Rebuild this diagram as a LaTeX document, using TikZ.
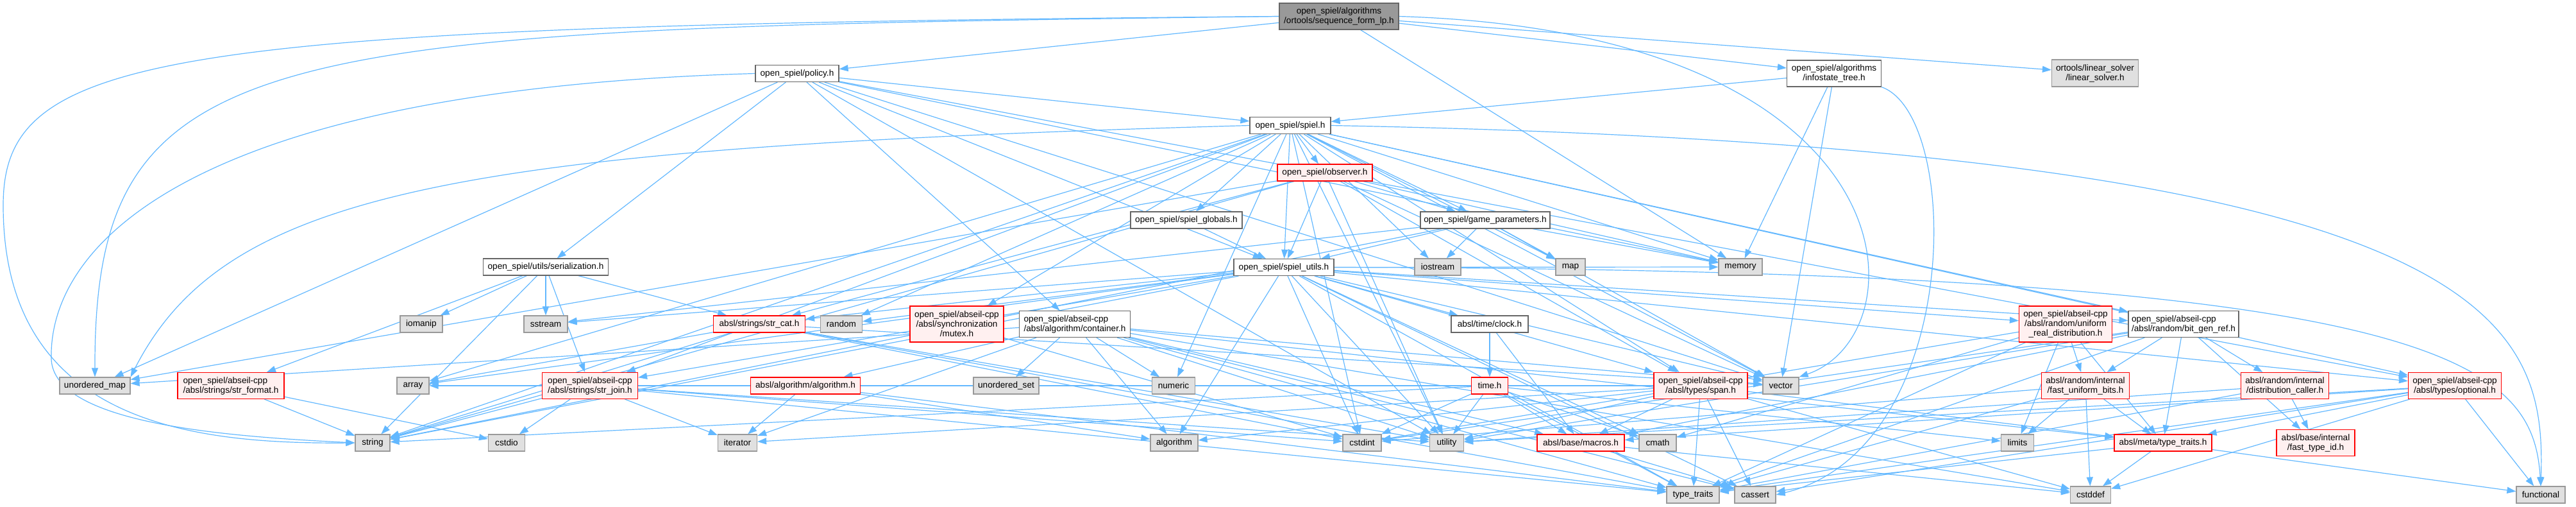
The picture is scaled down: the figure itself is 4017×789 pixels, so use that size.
\documentclass[tikz,border=0pt]{standalone}
\usepackage{fontspec}
\setmainfont{Liberation Sans}
\usetikzlibrary{arrows.meta,positioning,shapes}

\definecolor{edgeblue}{HTML}{63B8FF}
\definecolor{sysfill}{HTML}{E0E0E0}
\definecolor{sysline}{HTML}{999999}
\definecolor{hline}{HTML}{666666}
\definecolor{cutfill}{HTML}{FFF0F0}
\definecolor{rootfill}{HTML}{999999}

\pgfdeclarelayer{edges}
\pgfsetlayers{edges,main}

\tikzset{
  hfile/.style={draw=hline,fill=white,line width=0.6pt,inner sep=1pt,
    minimum height=13pt,align=center,font=\fontsize{6.8}{7.5}\selectfont},
  sysfile/.style={hfile,draw=sysline,fill=sysfill},
  cutfile/.style={hfile,draw=red,fill=cutfill},
  rootfile/.style={hfile,fill=rootfill},
  incl/.style={draw=edgeblue,line width=0.6pt,-{Triangle[length=7pt,width=5pt]}},
}

\begin{document}
\begin{tikzpicture}[x=0.5pt,y=-0.5pt]
\useasboundingbox (0,0) rectangle (4017,789);
% row 0 and 1
\node[rootfile,minimum width=93pt,minimum height=20.5pt] (root) at (2088,25.5) {open\_spiel/algorithms\\/ortools/sequence\_form\_lp.h};
\node[hfile,minimum width=65pt] (policy) at (1243,114.5) {open\_spiel/policy.h};
\node[hfile,minimum width=73.5pt,minimum height=20.5pt] (infotree) at (2860,114.5) {open\_spiel/algorithms\\/infostate\_tree.h};
\node[sysfile,minimum width=67.5pt,minimum height=21pt] (linsolver) at (3267,114) {ortools/linear\_solver\\/linear\_solver.h};
% spiel.h and friends
\node[hfile,minimum width=63pt] (spiel) at (2012,195.5) {open\_spiel/spiel.h};
\node[cutfile,minimum width=74pt] (observer) at (2066,269) {open\_spiel/observer.h};
\node[hfile,minimum width=87pt] (globals) at (1850,343) {open\_spiel/spiel\_globals.h};
\node[hfile,minimum width=101pt] (gameparams) at (2316,343) {open\_spiel/game\_parameters.h};
\node[hfile,minimum width=78pt] (utils) at (2002,416.5) {open\_spiel/spiel\_utils.h};
\node[hfile,minimum width=97.5pt] (serial) at (851,416) {open\_spiel/utils/serialization.h};
\node[sysfile,minimum width=36pt] (iostream) at (2242,416) {iostream};
\node[sysfile,minimum width=23pt] (map) at (2449,416) {map};
\node[sysfile,minimum width=34pt] (memory) at (2714,416) {memory};
% middle row
\node[sysfile,minimum width=33pt] (iomanip) at (657,505) {iomanip};
\node[sysfile,minimum width=34pt] (sstream) at (851,505) {sstream};
\node[cutfile,minimum width=71.5pt] (strcat) at (1184,505) {absl/strings/str\_cat.h};
\node[sysfile,minimum width=32.5pt] (random) at (1312,505) {random};
\node[cutfile,minimum width=73pt,minimum height=28pt] (mutex) at (1492,505) {open\_spiel/abseil-cpp\\/absl/synchronization\\/mutex.h};
\node[hfile,minimum width=86.5pt,minimum height=20.5pt,align=left] (container) at (1676,505) {open\_spiel/abseil-cpp\\/absl/algorithm/container.h};
\node[hfile,minimum width=60pt] (clock) at (2323,505) {absl/time/clock.h};
\node[cutfile,minimum width=72.5pt,minimum height=28pt] (unifreal) at (3221,505) {open\_spiel/abseil-cpp\\/absl/random/uniform\\\_real\_distribution.h};
\node[hfile,minimum width=86pt,minimum height=20.5pt,align=left] (bitgen) at (3405,505) {open\_spiel/abseil-cpp\\/absl/random/bit\_gen\_ref.h};
% lower row
\node[sysfile,minimum width=55pt] (umap) at (148,601) {unordered\_map};
\node[cutfile,minimum width=83pt,minimum height=20.5pt,align=left] (strformat) at (360,601) {open\_spiel/abseil-cpp\\/absl/strings/str\_format.h};
\node[sysfile,minimum width=25pt] (array) at (644,601) {array};
\node[cutfile,minimum width=74.5pt,minimum height=20.5pt,align=left] (strjoin) at (920,601) {open\_spiel/abseil-cpp\\/absl/strings/str\_join.h};
\node[cutfile,minimum width=85.5pt] (algoh) at (1256,601) {absl/algorithm/algorithm.h};
\node[sysfile,minimum width=51pt] (uset) at (1569,601) {unordered\_set};
\node[sysfile,minimum width=33.5pt] (numeric) at (1830,601) {numeric};
\node[cutfile,minimum width=28.5pt] (timeh) at (2323,601) {time.h};
\node[cutfile,minimum width=73pt,minimum height=20.5pt] (span) at (2652,601) {open\_spiel/abseil-cpp\\/absl/types/span.h};
\node[sysfile,minimum width=28pt] (vector) at (2777,601) {vector};
\node[cutfile,minimum width=68.5pt,minimum height=20.5pt] (fastbits) at (3252,601) {absl/random/internal\\/fast\_uniform\_bits.h};
\node[cutfile,minimum width=68.5pt,minimum height=20.5pt] (distcaller) at (3563,601) {absl/random/internal\\/distribution\_caller.h};
\node[cutfile,minimum width=72.5pt,minimum height=20.5pt] (optional) at (3828,601) {open\_spiel/abseil-cpp\\/absl/types/optional.h};
% bottom rows
\node[sysfile,minimum width=27pt] (string) at (581,690) {string};
\node[sysfile,minimum width=28.5pt] (cstdio) at (790,690) {cstdio};
\node[sysfile,minimum width=30.5pt] (iterator) at (1150,690) {iterator};
\node[sysfile,minimum width=37pt] (algorithm) at (1831,690) {algorithm};
\node[sysfile,minimum width=30pt] (cstdint) at (2124,690) {cstdint};
\node[sysfile,minimum width=26.5pt] (utility) at (2256,690) {utility};
\node[cutfile,minimum width=68pt] (macros) at (2465,690) {absl/base/macros.h};
\node[sysfile,minimum width=29pt] (cmath) at (2585,690) {cmath};
\node[sysfile,minimum width=25.5pt] (limits) at (3146,690) {limits};
\node[cutfile,minimum width=76pt] (metatt) at (3373,690) {absl/meta/type\_traits.h};
\node[cutfile,minimum width=61pt,minimum height=20.5pt] (fasttypeid) at (3611,690) {absl/base/internal\\/fast\_type\_id.h};
\node[sysfile,minimum width=41pt] (typetraits) at (2640,771) {type\_traits};
\node[sysfile,minimum width=32pt] (cassert) at (2737,771) {cassert};
\node[sysfile,minimum width=31.5pt] (cstddef) at (3260,771) {cstddef};
\node[sysfile,minimum width=38pt] (functional) at (3962,771) {functional};
\begin{pgfonlayer}{edges}
% sequence_form_lp.h
\draw[incl] (root) -- (policy);
\draw[incl] (root) -- (infotree);
\draw[incl] (root) -- (linsolver);
\draw[incl] (root.west) .. controls (400,45) and (147,60) .. (umap.north);
\draw[incl] (root.west) .. controls (250,40) and (5,80) .. (5,320) .. controls (5,660) and (300,692) .. (string.west);
\draw[incl] (root) -- (memory);
\draw[incl] (root.east) .. controls (2990,50) and (3000,520) .. (vector.north east);
% infostate_tree.h
\draw[incl] (infotree) -- (spiel);
\draw[incl] (infotree) -- (memory);
\draw[incl] (infotree) -- (vector);
\draw[incl] (infotree.south east) .. controls (3060,180) and (3062,700) .. (cassert.east);
% policy.h
\draw[incl] (policy) -- (spiel);
\draw[incl] (policy) -- (serial);
\draw[incl] (policy) -- (utils);
\draw[incl] (policy) -- (container);
\draw[incl] (policy) -- (umap);
\draw[incl] (policy.west) .. controls (300,140) and (75,380) .. (80,560) .. controls (85,660) and (350,680) .. (string.west);
\draw[incl] (policy) -- (memory);
\draw[incl] (policy) -- (vector);
\draw[incl] (policy) -- (utility);
\draw[incl] (policy) -- (optional);
% spiel.h
\draw[incl] (spiel) -- (observer);
\draw[incl] (spiel) -- (globals);
\draw[incl] (spiel) -- (gameparams);
\draw[incl] (spiel) -- (utils);
\draw[incl] (spiel) -- (strjoin);
\draw[incl] (spiel) -- (mutex);
\draw[incl] (spiel) -- (bitgen);
\draw[incl] (spiel) -- (optional);
\draw[incl] (spiel) -- (span);
\draw[incl] (spiel.east) .. controls (3900,230) and (3970,500) .. (functional.north);
\draw[incl] (spiel) -- (iostream);
\draw[incl] (spiel) -- (memory);
\draw[incl] (spiel) -- (random);
\draw[incl] (spiel) -- (string);
\draw[incl] (spiel.west) .. controls (700,230) and (350,300) .. (umap.north east);
\draw[incl] (spiel) -- (utility);
\draw[incl] (spiel) -- (vector);
\draw[incl] (spiel) -- (map);
\draw[incl] (spiel) -- (cstdint);
\draw[incl] (spiel) -- (numeric);
\draw[incl] (spiel) -- (array);
% observer.h
\draw[incl] (observer) -- (gameparams);
\draw[incl] (observer) -- (utils);
\draw[incl] (observer) -- (memory);
\draw[incl] (observer) -- (span);
\draw[incl] (observer) -- (vector);
\draw[incl] (observer) -- (string);
\draw[incl] (observer) -- (umap);
\draw[incl] (observer) -- (strcat);
\draw[incl] (observer) -- (utility);
% spiel_globals.h and game_parameters.h
\draw[incl] (globals) -- (utils);
\draw[incl] (gameparams) -- (utils);
\draw[incl] (gameparams) -- (iostream);
\draw[incl] (gameparams) -- (map);
\draw[incl] (gameparams) -- (memory);
\draw[incl] (gameparams) -- (string);
\draw[incl] (gameparams) -- (sstream);
\draw[incl] (gameparams) -- (vector);
% spiel_utils.h
\draw[incl] (utils) -- (strcat);
\draw[incl] (utils) -- (random);
\draw[incl] (utils) -- (sstream);
\draw[incl] (utils) -- (clock);
\draw[incl] (utils) -- (unifreal);
\draw[incl] (utils) -- (bitgen);
\draw[incl] (utils) -- (optional);
\draw[incl] (utils) -- (span);
\draw[incl] (utils) -- (strjoin);
\draw[incl] (utils) -- (cstdint);
\draw[incl] (utils) -- (utility);
\draw[incl] (utils) -- (algorithm);
\draw[incl] (utils) -- (typetraits);
\draw[incl] (utils) -- (cassert);
\draw[incl] (utils) -- (cmath);
\draw[incl] (utils) -- (vector);
\draw[incl] (utils) -- (string);
\draw[incl] (utils.east) .. controls (3800,420) and (3950,560) .. (functional.north);
\draw[incl] (utils) -- (array);
\draw[incl] (utils) -- (memory);
% serialization.h
\draw[incl] (serial) -- (iomanip);
\draw[incl] (serial) -- (sstream);
\draw[incl] (serial) -- (string);
\draw[incl] (serial) -- (strformat);
\draw[incl] (serial) -- (strjoin);
\draw[incl] (serial) -- (strcat);
% strings
\draw[incl] (strcat) -- (string);
\draw[incl] (strcat) -- (array);
\draw[incl] (strcat) -- (cstdint);
\draw[incl] (strcat) -- (typetraits);
\draw[incl] (strcat) -- (utility);
\draw[incl] (strcat) -- (vector);
\draw[incl] (strjoin) -- (string);
\draw[incl] (strjoin) -- (cstdio);
\draw[incl] (strjoin) -- (iterator);
\draw[incl] (strjoin) -- (typetraits);
\draw[incl] (strjoin) -- (utility);
\draw[incl] (strjoin) -- (cstdint);
\draw[incl] (strformat) -- (string);
\draw[incl] (strformat) -- (cstdio);
\draw[incl] (mutex) -- (cstdint);
% container.h
\draw[incl] (container) -- (algoh);
\draw[incl] (container) -- (uset);
\draw[incl] (container) -- (numeric);
\draw[incl] (container) -- (algorithm);
\draw[incl] (container) -- (typetraits);
\draw[incl] (container) -- (utility);
\draw[incl] (container) -- (vector);
\draw[incl] (container) -- (umap);
\draw[incl] (container) -- (cassert);
\draw[incl] (container) -- (cstddef);
\draw[incl] (container) -- (iterator);
\draw[incl] (container) -- (metatt);
\draw[incl] (container) -- (macros);
\draw[incl] (algoh) -- (iterator);
\draw[incl] (algoh) -- (algorithm);
\draw[incl] (algoh) -- (typetraits);
% time
\draw[incl] (clock) -- (timeh);
\draw[incl] (clock) -- (macros);
\draw[incl] (timeh) -- (cstdint);
\draw[incl] (timeh) -- (utility);
\draw[incl] (timeh) -- (macros);
\draw[incl] (timeh) -- (cmath);
\draw[incl] (timeh) -- (typetraits);
\draw[incl] (timeh) -- (string);
\draw[incl] (timeh) -- (limits);
% span.h
\draw[incl] (span) -- (typetraits);
\draw[incl] (span) -- (cassert);
\draw[incl] (span) -- (cstddef);
\draw[incl] (span) -- (macros);
\draw[incl] (span) -- (utility);
\draw[incl] (span) -- (metatt);
\draw[incl] (span) -- (algorithm);
\draw[incl] (span) -- (iterator);
\draw[incl] (span) -- (array);
\draw[incl] (macros) -- (cassert);
\draw[incl] (macros) -- (cstddef);
% random
\draw[incl] (unifreal) -- (fastbits);
\draw[incl] (unifreal) -- (metatt);
\draw[incl] (unifreal) -- (limits);
\draw[incl] (unifreal) -- (cmath);
\draw[incl] (unifreal) -- (cstdint);
\draw[incl] (unifreal) -- (typetraits);
\draw[incl] (bitgen) -- (fastbits);
\draw[incl] (bitgen) -- (distcaller);
\draw[incl] (bitgen) -- (fasttypeid);
\draw[incl] (bitgen) -- (metatt);
\draw[incl] (bitgen) -- (typetraits);
\draw[incl] (bitgen) -- (utility);
\draw[incl] (bitgen) -- (macros);
\draw[incl] (bitgen) -- (cstdint);
\draw[incl] (fastbits) -- (limits);
\draw[incl] (fastbits) -- (cstddef);
\draw[incl] (fastbits) -- (cstdint);
\draw[incl] (fastbits) -- (typetraits);
\draw[incl] (fastbits) -- (metatt);
\draw[incl] (distcaller) -- (fasttypeid);
\draw[incl] (distcaller) -- (utility);
\draw[incl] (distcaller) -- (typetraits);
% optional.h and meta
\draw[incl] (optional) -- (functional);
\draw[incl] (optional) -- (typetraits);
\draw[incl] (optional) -- (utility);
\draw[incl] (optional) -- (cassert);
\draw[incl] (optional) -- (cstddef);
\draw[incl] (optional) -- (metatt);
\draw[incl] (optional) -- (macros);
\draw[incl] (metatt) -- (cstddef);
\draw[incl] (metatt) -- (functional);
\draw[incl] (metatt) -- (typetraits);
\end{pgfonlayer}
\end{tikzpicture}
\end{document}
